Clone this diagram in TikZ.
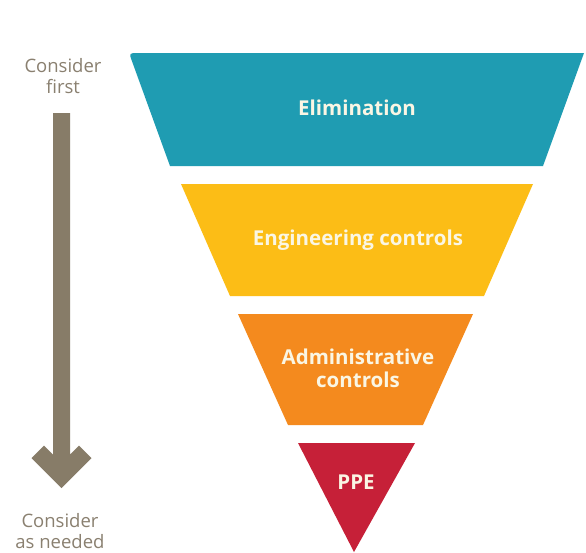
\documentclass[tikz,border=0pt]{standalone}
\usepackage{fontspec}
\setmainfont{Open Sans}
\begin{document}
\definecolor{elimc}{RGB}{31,156,178}
\definecolor{engc}{RGB}{252,189,22}
\definecolor{admc}{RGB}{244,138,30}
\definecolor{ppec}{RGB}{198,32,56}
\definecolor{arrowc}{RGB}{135,124,104}
\definecolor{sidec}{RGB}{138,128,112}
\definecolor{labc}{RGB}{250,246,228}
\begin{tikzpicture}[x=1pt,y=-1pt,
  lab/.style={text=labc,font=\fontsize{20.5}{23}\selectfont\bfseries,align=center,inner sep=0pt},
  side/.style={text=sidec,font=\fontsize{18.5}{21.5}\selectfont,align=center,inner sep=0pt}]
\useasboundingbox (0,0) rectangle (586,552);
\fill[white] (0,0) rectangle (586,552);
% hierarchy bands (the widest one has a rounded upper-left corner)
\fill[elimc] (170,166) -- (132.1,61.5) .. controls (129,53) .. (138,53) -- (584,53) -- (543,166) -- cycle;
\fill[engc] (181,184) -- (533,184) -- (484,296) -- (230,296) -- cycle;
\fill[admc] (238,314) -- (473,314) -- (423,425) -- (288,425) -- cycle;
\fill[ppec] (298,443) -- (415,443) -- (354,552) -- cycle;
% band labels
\node[lab] (elim) at (357,108) {Elimination};
\node[lab] (eng) at (358,240) {Engineering controls};
\node[lab] (adm) at (358,368) {Administrative\\controls};
\node[lab] (ppe) at (356,482) {PPE};
% side labels and arrow
\node[side] (first) at (63,76) {Consider\\first};
\node[side] (needed) at (60,531) {Consider\\as needed};
\fill[arrowc] (61.5,488) -- (31.5,458) -- (44,445.5) -- (53,454.5) -- (53,113) -- (70,113) -- (70,454.5) -- (79,445.5) -- (91.5,458) -- cycle;
\end{tikzpicture}
\end{document}
